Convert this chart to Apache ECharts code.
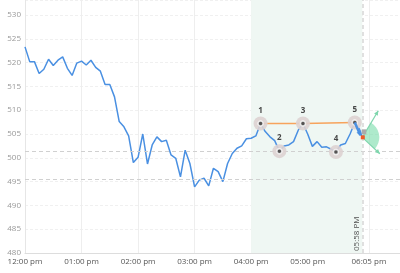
<!DOCTYPE html>
<html><head><meta charset="utf-8">
<script src="https://cdn.jsdelivr.net/npm/echarts@6/dist/echarts.min.js"></script>
<style>html,body{margin:0;padding:0;background:#fff}#c{width:400px;height:273px}</style>
</head><body><div id="c"></div>
<script>
// minutes after 12:00 pm
const times = [0,5,10,15,20,25,30,35,40,45,50,55,60,65,70,75,80,85,90,95,100,105,110,115,120,125,130,135,140,145,150,155,160,165,170,175,180,185,190,195,200,205,210,215,220,225,230,235,240,245,250,255,260,265,270,275,280,285,290,295,300,305,310,315,320,325,330,335,340,345,350,355,358];
const values = [523.3,520.2,520.2,517.7,518.6,520.7,519.4,520.5,521.2,518.8,
517.3,519.9,520.3,519.5,520.5,519.0,518.2,515.4,515.4,512.8,
507.6,506.5,504.6,499.0,500.1,505.0,498.7,502.7,504.4,503.4,
503.7,500.6,499.9,496.0,501.6,498.8,493.9,495.3,495.7,494.1,
497.8,497.1,495.0,498.8,500.9,502.0,502.5,504.0,504.1,504.6,
507.2,505.5,504.4,503.6,501.4,502.5,502.7,503.4,505.8,507.2,
505.0,502.4,503.4,502.2,502.3,501.8,501.2,502.7,503.0,505.0,
507.4,506.0,504.3];
const patternIdx = [50,54,59,66,70];
const patternLabels = ['1','2','3','4','5'];
const xTickValues = [0,60,120,180,240,300,365];
const yTicks = [480,485,490,495,500,505,510,515,520,525,530];
const levelLines = [501.3,495.5];
const zoneStart = 240, markTime = 358, markText = '05:58 PM';

const lineData = times.map((t,i)=>[t,values[i]]);
const patData = patternIdx.map((k,i)=>({value:[times[k],values[k]],name:patternLabels[i]}));
const lastPt = lineData[lineData.length-1];
const p5 = patData[4].value;

function fmt(m){let h=Math.floor(m/60)%12; if(h===0)h=12; const mm=m%60; return String(h).padStart(2,'0')+':'+String(mm).padStart(2,'0')+' pm';}

const chart = echarts.init(document.getElementById('c'),null,{renderer:'canvas'});
chart.setOption({
  animation:false,
  grid:{left:25,right:0,top:0,bottom:20},
  xAxis:{type:'value',min:0,max:398,
    axisLine:{lineStyle:{color:'#ddd'}},
    axisTick:{show:false,customValues:xTickValues},
    axisLabel:{customValues:xTickValues,formatter:v=>fmt(v),color:'#555',fontSize:8,fontFamily:'Open Sans',margin:5},
    splitLine:{show:true,lineStyle:{color:'#eee'}}},
  yAxis:{type:'value',min:480,max:533.15,interval:5,
    axisLine:{show:true,lineStyle:{color:'#e6e6e6'}},axisTick:{show:false},
    axisLabel:{color:'#999',fontSize:8,fontFamily:'Open Sans',margin:4,showMaxLabel:false,
      formatter:v=>yTicks.includes(v)?String(v):''},
    splitLine:{lineStyle:{color:'#f0f0f0',type:[3,2]}}},
  series:[
    {type:'line',data:lineData,showSymbol:false,lineStyle:{color:'#4a90e2',width:1.5},z:3,
     markArea:{silent:true,itemStyle:{color:'#eff7f3'},data:[[{xAxis:zoneStart},{xAxis:markTime}]]},
     markLine:{silent:true,symbol:'none',animation:false,
       data:[
        {yAxis:levelLines[0],lineStyle:{color:'#d0d0d0',type:[4,3],width:1},label:{show:false}},
        {yAxis:levelLines[1],lineStyle:{color:'#d0d0d0',type:[4,3],width:1},label:{show:false}},
        {xAxis:markTime,lineStyle:{color:'#d6d6d6',type:[4,3],width:1.5},
         label:{show:true,formatter:markText,position:'insideStartTop',color:'#555',fontSize:8,fontFamily:'Open Sans',distance:2}}
       ]}},
    {type:'line',data:[patData[0].value,patData[2].value,patData[4].value],showSymbol:false,
     lineStyle:{color:'#f7a35c',width:1.5},z:4},
    {type:'scatter',data:patData,symbolSize:14,itemStyle:{color:'#ddd2d2',opacity:0.9},z:5,
     label:{show:true,position:'top',formatter:p=>p.name,color:'#333',fontSize:8,fontWeight:'bold',fontFamily:'Open Sans',distance:2}},
    {type:'scatter',data:patData.map(d=>d.value),symbolSize:5,itemStyle:{color:'#333',borderColor:'#fff',borderWidth:1.5},z:6},
    {type:'custom',z:7,data:[[lastPt[0],lastPt[1],p5[0],p5[1]]],
     renderItem:function(params,api){
       const c=api.coord([api.value(0),api.value(1)]);
       const s=api.coord([api.value(2),api.value(3)]);
       const a1=-59*Math.PI/180, a2=43*Math.PI/180, r=17;
       const ang=Math.atan2(c[1]-s[1],c[0]-s[0]);
       const head=(x,y,an,len,col)=>({type:'polygon',shape:{points:[[x,y],[x-len*Math.cos(an-0.45),y-len*Math.sin(an-0.45)],[x-len*Math.cos(an+0.45),y-len*Math.sin(an+0.45)]]},style:{fill:col}});
       const e1=[c[0]+31*Math.cos(a1),c[1]+31*Math.sin(a1)], e2=[c[0]+24*Math.cos(a2),c[1]+24*Math.sin(a2)];
       return {type:'group',children:[
         {type:'sector',shape:{cx:c[0],cy:c[1],r:r,r0:0,startAngle:a1,endAngle:a2,clockwise:true},style:{fill:'rgba(120,220,170,0.6)'}},
         {type:'line',shape:{x1:c[0],y1:c[1],x2:e1[0],y2:e1[1]},style:{stroke:'#7fd6ad',lineWidth:1.2}},
         head(e1[0],e1[1],a1,5,'#7fd6ad'),
         {type:'line',shape:{x1:c[0],y1:c[1],x2:e2[0],y2:e2[1]},style:{stroke:'#7fd6ad',lineWidth:1.2}},
         head(e2[0],e2[1],a2,5,'#7fd6ad'),
         {type:'line',shape:{x1:s[0],y1:s[1],x2:c[0]-2,y2:c[1]-2},style:{stroke:'#4a90e2',lineWidth:2.5}},
         head(c[0]-1,c[1]-1,ang,6,'#4a90e2'),
         {type:'rect',shape:{x:c[0]-0.5,y:c[1]-8,width:4.5,height:5},style:{fill:'#aaaaaa'}},
         {type:'rect',shape:{x:c[0]-1.5,y:c[1]-2,width:4,height:4},style:{fill:'#f05a28'}}
       ]};
     }}
  ]
});
</script></body></html>
